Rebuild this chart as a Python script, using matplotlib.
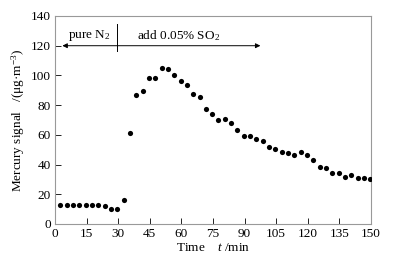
import numpy as np
import matplotlib.pyplot as plt

plt.rcParams['font.family'] = 'Liberation Serif'
plt.rcParams['mathtext.fontset'] = 'custom'
plt.rcParams['mathtext.rm'] = 'Liberation Serif'
plt.rcParams['mathtext.it'] = 'Liberation Serif:italic'

# measured mercury signal, one point every 3 min
time = [2.6, 5.6, 8.6, 11.6, 14.6, 17.6, 20.6, 23.6, 26.6, 29.6,
        32.6, 35.6, 38.6, 41.6, 44.6, 47.6, 50.6, 53.6, 56.6, 59.6,
        62.6, 65.6, 68.6, 71.6, 74.6, 77.6, 80.6, 83.6, 86.6, 89.6,
        92.6, 95.6, 98.6, 101.6, 104.6, 107.6, 110.6, 113.6, 116.6, 119.6,
        122.6, 125.6, 128.6, 131.6, 134.6, 137.6, 140.6, 143.6, 146.6, 149.6]
signal = [13.0, 13.0, 13.0, 13.0, 12.8, 12.5, 12.5, 11.9, 10.3, 10.1,
          16.0, 61.0, 86.6, 89.7, 98.0, 98.6, 105.2, 104.3, 100.3, 96.2,
          93.5, 87.5, 85.2, 77.4, 74.0, 70.0, 70.9, 68.3, 63.3, 59.5,
          59.0, 56.9, 55.9, 51.8, 50.3, 48.4, 47.6, 46.4, 48.4, 46.7,
          43.3, 38.6, 37.9, 34.5, 34.5, 31.9, 33.0, 31.0, 31.2, 30.1]

xticks = np.arange(0, 151, 15)
yticks = np.arange(0, 141, 20)

fig = plt.figure(figsize=(3.95, 2.66), dpi=100)
ax = fig.add_axes([55/395, 1 - 224/266, 316/395, 208/266])

ax.scatter(time, signal, s=14, color='black', linewidths=0, zorder=3)

ax.set_xlim(0, 150)
ax.set_ylim(0, 140)
ax.set_xticks(xticks)
ax.set_yticks(yticks)
ax.tick_params(direction='in', length=4, width=0.6, labelsize=9.5, pad=3)
for sp in ax.spines.values():
    sp.set_color('#999999')
    sp.set_linewidth(0.8)

# gas switch annotations
ax.annotate('', xy=(3.5, 120), xytext=(97.5, 120),
            arrowprops=dict(arrowstyle='<|-|>', color='black', lw=0.7,
                            mutation_scale=7, shrinkA=0, shrinkB=0))
ax.plot([29.6, 29.6], [116.5, 134.5], color='black', lw=0.7)
ax.text(16.5, 127, 'pure N$_2$', ha='center', va='center', fontsize=9.5)
ax.text(39, 127, 'add 0.05% SO$_2$', ha='left', va='center', fontsize=9.5)

ax.set_xlabel('Time    $t$ /min', fontsize=9.5, labelpad=1)
ax.set_ylabel('Mercury signal   /(μg·m$^{-3}$)', fontsize=9.5, labelpad=3)

fig.savefig('out.png', dpi=100)
